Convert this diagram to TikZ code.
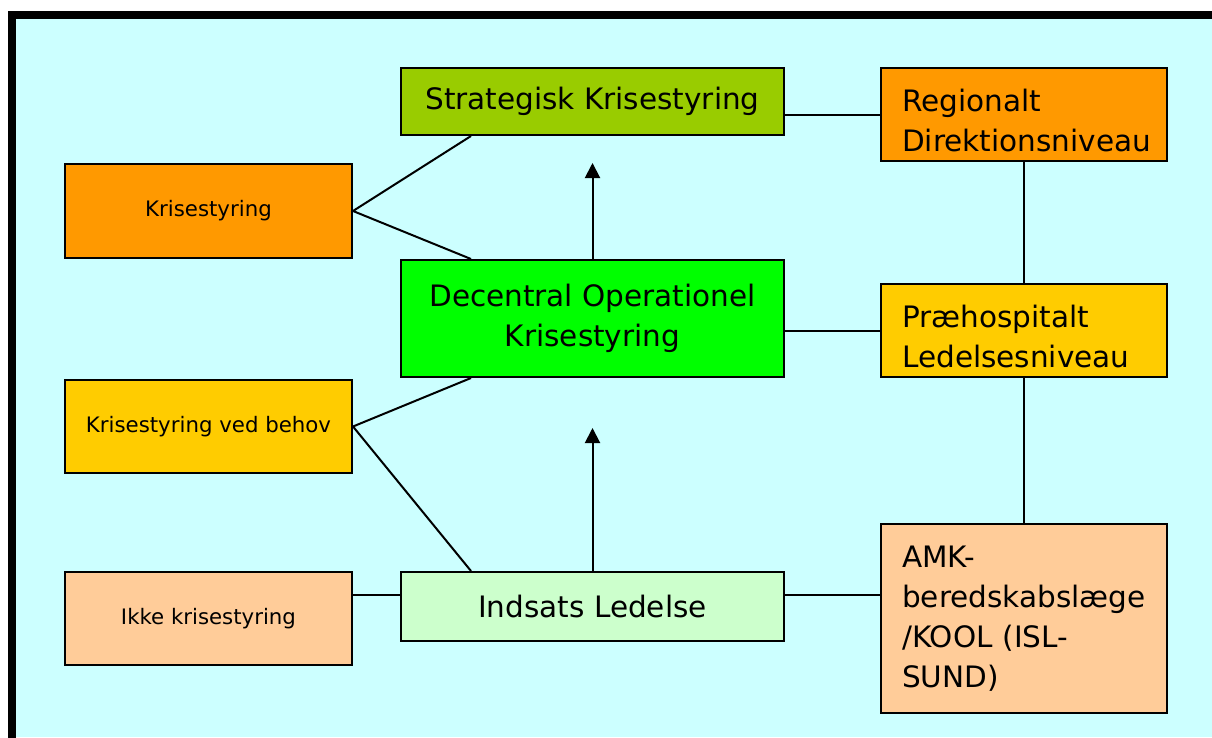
\documentclass[tikz,border=0pt]{standalone}
\usepackage{fontspec}
\setmainfont{DejaVu Sans}
\usetikzlibrary{arrows.meta,calc}
\definecolor{bgcyan}{HTML}{CCFFFF}
\definecolor{olivegreen}{HTML}{99CC00}
\definecolor{deeporange}{HTML}{FF9900}
\definecolor{brightgreen}{HTML}{00FF00}
\definecolor{goldyellow}{HTML}{FFCC00}
\definecolor{peach}{HTML}{FFCC99}
\definecolor{palegreen}{HTML}{CCFFCC}
\begin{document}
\begin{tikzpicture}[x=1pt,y=-1pt,
  box/.style={draw=black,line width=2pt,inner sep=0pt,align=center},
  bigtext/.style={font=\fontsize{29.5}{40}\selectfont},
  smalltext/.style={font=\fontsize{21.3}{25}\selectfont},
  sidetext/.style={bigtext,anchor=base west,inner sep=0pt,text width=260pt,align=left},
  link/.style={line width=2pt},
  uparrow/.style={line width=2pt,-{Triangle[width=15pt,length=15pt]}}]
\useasboundingbox (0,0) rectangle (1212,737);
\fill[white] (0,0) rectangle (1212,737);
% frame
\fill[bgcyan] (11.5,14.5) rectangle (1212,737);
\draw[line width=8pt] (11.5,740) -- (11.5,14.5) -- (1215,14.5);

% centre column
\node[box,fill=olivegreen,minimum width=383,minimum height=67,bigtext] (strat) at (592.5,101.5) {Strategisk Krisestyring};
\node[box,fill=brightgreen,minimum width=383,minimum height=117,bigtext] (dec) at (592.5,318.5) {Decentral Operationel\\Krisestyring};
\node[box,fill=palegreen,minimum width=383,minimum height=69,bigtext] (inds) at (592.5,606.5) {Indsats Ledelse};

% left column
\node[box,fill=deeporange,minimum width=287,minimum height=94,smalltext] (kris) at (208.5,211) {Krisestyring};
\node[box,fill=goldyellow,minimum width=287,minimum height=93,smalltext] (behov) at (208.5,426.5) {Krisestyring ved behov};
\node[box,fill=peach,minimum width=287,minimum height=93,smalltext] (ikke) at (208.5,618.5) {Ikke krisestyring};

% right column
\node[box,fill=deeporange,minimum width=286,minimum height=93] (reg) at (1024,114.5) {};
\node[box,fill=goldyellow,minimum width=286,minimum height=93] (pre) at (1024,330.5) {};
\node[box,fill=peach,minimum width=286,minimum height=189] (amk) at (1024,618.5) {};
\node[sidetext] (regT) at (902,111) {Regionalt\\Direktionsniveau};
\node[sidetext] (preT) at (902,327) {Præhospitalt\\Ledelsesniveau};
\node[sidetext] (amkT) at (902,567) {AMK-\\beredskabslæge\\/KOOL (ISL-\\SUND)};

% connectors
\draw[link] (reg.west) -- (reg.west -| strat.east);
\draw[link] (pre.west) -- (pre.west -| dec.east);
\coordinate (indsR) at ([yshift=11.5pt]inds.east);
\coordinate (indsL) at ([yshift=11.5pt]inds.west);
\draw[link] (indsR) -- (indsR -| amk.west);
\draw[link] (indsL) -- (indsL -| ikke.east);
\draw[link] (reg.south) -- (pre.north);
\draw[link] (pre.south) -- (amk.north);

\coordinate (stratFoot) at ($(strat.south west)+(71,0)$);
\coordinate (decHead) at ($(dec.north west)+(71,0)$);
\coordinate (decFoot) at ($(dec.south west)+(71,0)$);
\coordinate (indsHead) at ($(inds.north west)+(71,0)$);
\draw[link] (stratFoot) -- (kris.east) -- (decHead);
\draw[link] (decFoot) -- (behov.east) -- (indsHead);

\coordinate (tipA) at ($(dec.north)+(0,-96)$);
\coordinate (tipB) at ($(inds.north)+(0,-143)$);
\draw[uparrow] (dec.north) -- (tipA);
\draw[uparrow] (inds.north) -- (tipB);
\end{tikzpicture}
\end{document}
